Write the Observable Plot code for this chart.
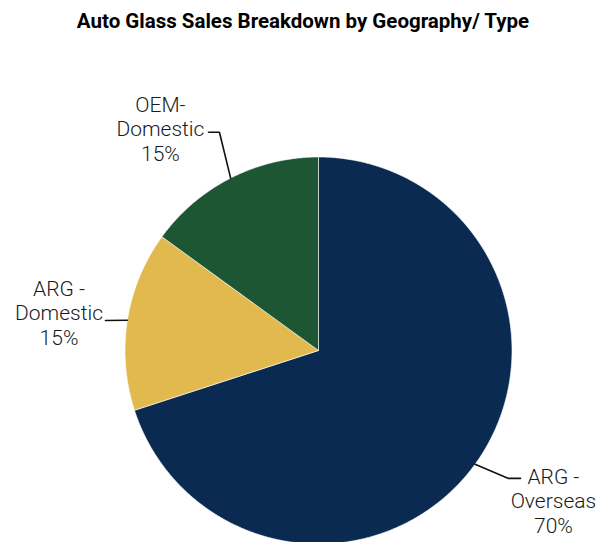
<!DOCTYPE html>
<html><head><meta charset="utf-8">
<script src="https://cdn.jsdelivr.net/npm/d3@7"></script>
<script src="https://cdn.jsdelivr.net/npm/@observablehq/plot@0.6"></script>
<style>body{margin:0;background:#fff}#chart{width:601px;height:542px;overflow:hidden}</style>
</head><body><div id="chart"></div>
<script>
// ---- data ----
const title = "Auto Glass Sales Breakdown by Geography/ Type";
const categories = ["ARG - Overseas", "ARG - Domestic", "OEM- Domestic"];
const labelTexts = ["ARG -\nOverseas", "ARG -\nDomestic", "OEM-\nDomestic"];
const shares = [70, 15, 15];
const colors = ["#0b2a52", "#e1b94f", "#1c5633"];

// ---- layout (unit-circle coordinates, y up) ----
const labelPos = [[1.214, -0.775], [-1.341, 0.196], [-0.817, 1.147]];
const leaderElbow = [[0.982, -0.661], null, [-0.512, 1.128]];
const leaderEnd = [[1.044, -0.661], [-1.101, 0.155], [-0.568, 1.128]];

const arcs = d3.pie().sort(null).value(d => d)(shares);
const pt = a => [Math.sin(a), Math.cos(a)];

const slicePts = [];
arcs.forEach((a, i) => {
  const name = categories[i];
  slicePts.push({name, x: 0, y: 0});
  const n = Math.max(2, Math.ceil((a.endAngle - a.startAngle) / (Math.PI / 360)));
  for (let k = 0; k <= n; k++) {
    const ang = a.startAngle + (a.endAngle - a.startAngle) * k / n;
    const [x, y] = pt(ang);
    slicePts.push({name, x, y});
  }
  slicePts.push({name, x: 0, y: 0});
});

const leaderPts = [];
arcs.forEach((a, i) => {
  const name = categories[i];
  const [x0, y0] = pt((a.startAngle + a.endAngle) / 2);
  leaderPts.push({name, x: x0, y: y0});
  if (leaderElbow[i]) leaderPts.push({name, x: leaderElbow[i][0], y: leaderElbow[i][1]});
  leaderPts.push({name, x: leaderEnd[i][0], y: leaderEnd[i][1]});
});

const labels = categories.map((c, i) => ({
  name: c, x: labelPos[i][0], y: labelPos[i][1],
  text: labelTexts[i] + "\n" + shares[i] + "%"
}));

const chart = Plot.plot({
  width: 601, height: 542,
  marginTop: 0, marginRight: 0, marginBottom: 0, marginLeft: 0,
  x: {domain: [-1, 1], range: [124.5, 511.5], axis: null},
  y: {domain: [-1, 1], range: [543.5, 156.5], axis: null},
  color: {domain: categories, range: colors},
  style: {fontFamily: "Roboto, sans-serif", background: "#fff"},
  marks: [
    Plot.line(slicePts, {x: "x", y: "y", z: "name", fill: "name", stroke: "#ffffff", strokeWidth: 0.6, curve: "linear"}),
    Plot.line(leaderPts, {x: "x", y: "y", z: "name", stroke: "#111", strokeWidth: 1.6}),
    Plot.text(labels, {x: "x", y: "y", text: "text", fontSize: 21, fontWeight: 300, lineHeight: 1.17, fill: "#1a1a1a", textAnchor: "middle"}),
    Plot.text([title], {frameAnchor: "top", dx: 2, dy: 21, text: d => d, fontSize: 20.5, fontWeight: 700, fill: "#000", lineAnchor: "middle"})
  ]
});
document.getElementById("chart").appendChild(chart);
</script>
</body></html>
